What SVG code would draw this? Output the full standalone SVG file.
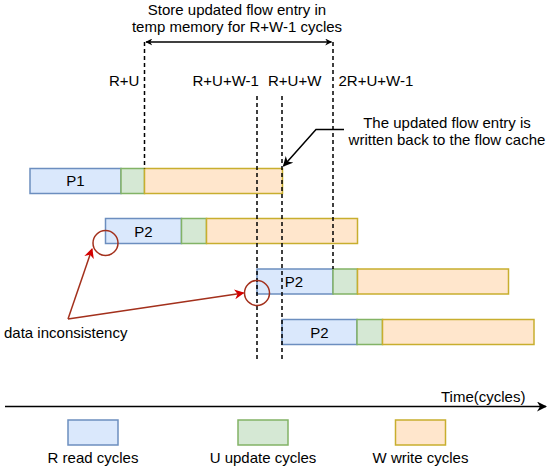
<svg xmlns="http://www.w3.org/2000/svg" width="550" height="473" viewBox="0 0 550 473">
<style>
text{font-family:"Liberation Sans",Arial,sans-serif;font-size:15px;fill:#000}
.c{text-anchor:middle}
.r{fill:#dae8fc;stroke:#6c8ebf;stroke-width:1.5}
.u{fill:#d5e8d4;stroke:#82b366;stroke-width:1.5}
.w{fill:#ffe6cc;stroke:#c8ae2e;stroke-width:1.5}
.d{stroke:#000;stroke-width:1.5;stroke-dasharray:4 3;fill:none}
.k{stroke:#000;stroke-width:1.5;fill:none}
.red{stroke:#a3301c;stroke-width:1.5;fill:none}
</style>
<defs>
<marker id="ah" viewBox="0 0 10 10" refX="9" refY="5" markerWidth="7" markerHeight="7" orient="auto-start-reverse" markerUnits="userSpaceOnUse"><path d="M0,0 L10,5 L0,10 L3,5 Z" fill="#000"/></marker>
<marker id="ah2" viewBox="0 0 10 10" refX="9" refY="5" markerWidth="10" markerHeight="10" orient="auto" markerUnits="userSpaceOnUse"><path d="M0,0 L10,5 L0,10 L3,5 Z" fill="#000"/></marker>
<marker id="ahr" viewBox="0 0 10 10" refX="9" refY="5" markerWidth="10" markerHeight="10" orient="auto" markerUnits="userSpaceOnUse"><path d="M0,0 L10,5 L0,10 L3,5 Z" fill="#d40000"/></marker>
</defs>

<g id="labels">
<text class="c" x="237" y="14.5">Store updated flow entry in</text>
<text class="c" x="237" y="31.5">temp memory for R+W-1 cycles</text>
<text x="109" y="85.5">R+U</text>
<text x="192.5" y="85.5">R+U+W-1</text>
<text x="268" y="85.5">R+U+W</text>
<text x="338.5" y="85.5">2R+U+W-1</text>
<text class="c" x="447" y="127.5">The updated flow entry is</text>
<text class="c" x="447" y="144.5">written back to the flow cache</text>
<text x="4" y="338">data inconsistency</text>
<text x="441" y="402">Time(cycles)</text>
</g>

<g id="P1">
<rect class="r" x="30" y="168.5" width="91" height="25"/>
<rect class="u" x="121" y="168.5" width="23.5" height="25"/>
<rect class="w" x="144.5" y="168.5" width="138" height="25"/>
<text class="c" x="75.5" y="186">P1</text>
</g>
<g id="P2a">
<rect class="r" x="105.5" y="218.5" width="76" height="25"/>
<rect class="u" x="181.5" y="218.5" width="25" height="25"/>
<rect class="w" x="206.5" y="218.5" width="151" height="25"/>
<text class="c" x="143.5" y="236.5">P2</text>
</g>
<g id="P2b">
<rect class="r" x="257" y="269" width="76" height="25"/>
<rect class="u" x="333" y="269" width="24.5" height="25"/>
<rect class="w" x="357.5" y="269" width="151" height="25"/>
<text class="c" x="294" y="287">P2</text>
</g>
<g id="P2c">
<rect class="r" x="282" y="319.5" width="75" height="25"/>
<rect class="u" x="357" y="319.5" width="25.5" height="25"/>
<rect class="w" x="382.5" y="319.5" width="151.5" height="25"/>
<text class="c" x="319.5" y="337.5">P2</text>
</g>

<g id="legend">
<g id="legend-R"><rect class="r" x="68" y="420" width="50" height="25"/><text class="c" x="93" y="463">R read cycles</text></g>
<g id="legend-U"><rect class="u" x="238" y="420" width="50" height="25"/><text class="c" x="263" y="463">U update cycles</text></g>
<g id="legend-W"><rect class="w" x="395.5" y="420" width="50" height="25"/><text class="c" x="420.5" y="463">W write cycles</text></g>
</g>

<g id="connectors">
<line class="d" x1="144.5" y1="42" x2="144.5" y2="168.5"/>
<line class="d" x1="333" y1="42" x2="333" y2="269"/>
<line class="d" x1="257" y1="96" x2="257" y2="362"/>
<line class="d" x1="282" y1="96" x2="282" y2="362"/>
<line class="k" x1="146" y1="42" x2="331.5" y2="42" marker-start="url(#ah)" marker-end="url(#ah)"/>
<polyline class="k" points="344,129.5 316,129.5 283.5,166" marker-end="url(#ah2)"/>
<line class="k" x1="5" y1="406.5" x2="546" y2="406.5" marker-end="url(#ah2)"/>
<circle class="red" cx="105.5" cy="243" r="12.5"/>
<circle class="red" cx="257" cy="293" r="12.5"/>
<line class="red" x1="68" y1="319" x2="92" y2="249" marker-end="url(#ahr)"/>
<line class="red" x1="68" y1="319" x2="243.5" y2="293" marker-end="url(#ahr)"/>
</g>
</svg>
